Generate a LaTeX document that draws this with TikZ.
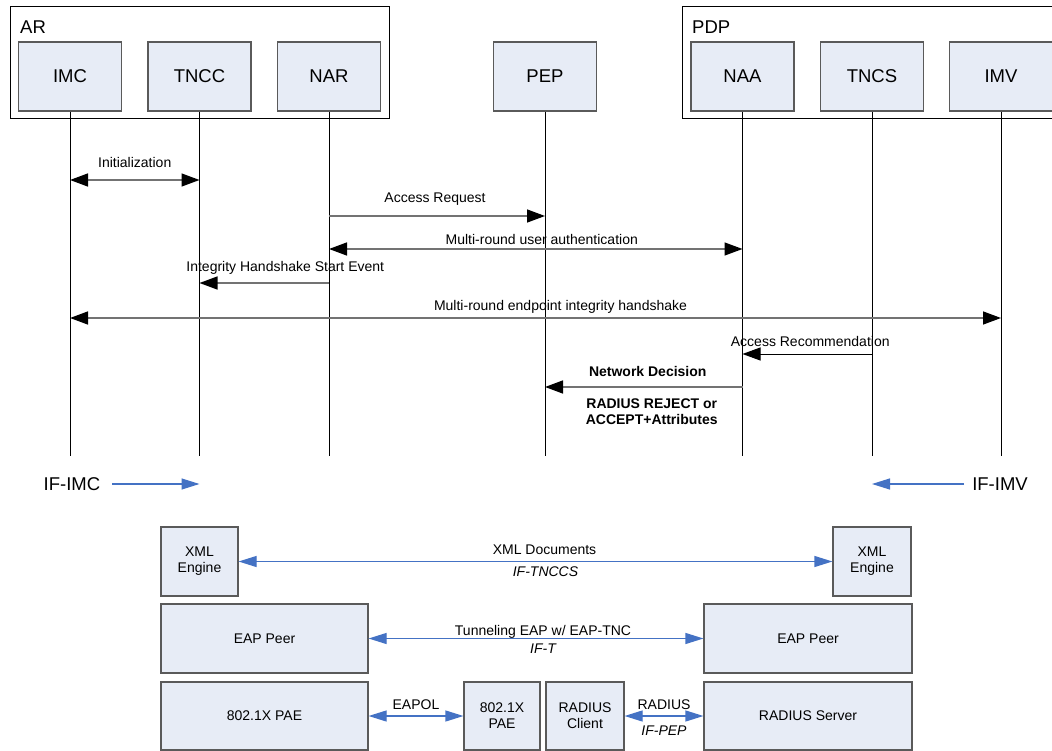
\documentclass[tikz,border=0pt]{standalone}
\usepackage{fontspec}
\setmainfont{Liberation Sans}
\usepackage{tikz}
\usetikzlibrary{arrows.meta, positioning, calc}
\definecolor{boxfill}{RGB}{231,236,246}
\definecolor{boxline}{RGB}{90,90,90}
\definecolor{msggray}{RGB}{115,115,115}
\definecolor{ifblue}{RGB}{68,114,196}

\begin{document}
\begin{tikzpicture}[x=1pt, y=-1pt,
  ent/.style={draw=boxline, fill=boxfill, line width=1.2pt, minimum width=103pt, minimum height=69pt, inner sep=0pt, font=\fontsize{18.5}{22}\selectfont},
  blk/.style={draw=boxline, fill=boxfill, line width=1.2pt, inner sep=0pt, align=center, font=\fontsize{14}{16}\selectfont},
  grp/.style={draw=black, line width=1pt},
  life/.style={black, line width=1pt},
  msg/.style={msggray, line width=1.4pt},
  ifl/.style={ifblue, line width=1.2pt},
  lbl/.style={font=\fontsize{14}{16}\selectfont, anchor=base, inner sep=0pt, text=black},
  boldlbl/.style={lbl, font=\fontsize{14}{16}\selectfont\bfseries},
  big/.style={font=\fontsize{18.5}{22}\selectfont, inner sep=0pt},
  seqtip/.tip={Triangle[length=18pt, width=13pt, color=black]},
  iftip/.tip={Triangle[length=18pt, width=11pt]}]
\useasboundingbox (0,0) rectangle (1052,751);
\clip (0,0) rectangle (1052,751);

% groups
\draw[grp] (10,7) rectangle (389,119);
\draw[grp] (682,7) rectangle (1070,119);
\node[big, anchor=west] (ar) at (20,27.5) {AR};
\node[big, anchor=west] (pdp) at (692,27.5) {PDP};

\foreach \n/\t/\x in {imc/IMC/70, tncc/TNCC/199.5, nar/NAR/329, pep/PEP/545, naa/NAA/742.5, tncs/TNCS/872, imv/IMV/1001}
  \node[ent] (\n) at (\x,76.5) {\t};

\coordinate (lend) at (0,456);
\foreach \n in {imc,tncc,nar,pep,naa,tncs,imv}
  \draw[life] (\n.south) -- (\n |- lend);

\coordinate (r1) at (0,180);
\coordinate (r2) at (0,216);
\coordinate (r3) at (0,249);
\coordinate (r4) at (0,283);
\coordinate (r5) at (0,318);
\coordinate (r6) at (0,354);
\coordinate (r7) at (0,387);

\draw[msg, seqtip-seqtip] (imc |- r1) -- node[lbl, yshift=12pt] {Initialization} (tncc |- r1);
\draw[msg, -seqtip] (nar |- r2) -- node[lbl, yshift=13pt, xshift=-2pt] {Access Request} (pep |- r2);
\draw[msg, seqtip-seqtip] (nar |- r3) -- node[lbl, yshift=4pt, xshift=6pt] {Multi-round user authentication} (naa |- r3);
\draw[msg, -seqtip] (nar |- r4) -- node[lbl, yshift=11pt, xshift=21pt] {Integrity Handshake Start Event} (tncc |- r4);
\draw[msg, seqtip-seqtip] (imc |- r5) -- node[lbl, yshift=7pt, xshift=25pt] {Multi-round endpoint integrity handshake} (imv |- r5);
\draw[life, -seqtip] (tncs |- r6) -- node[lbl, yshift=8pt, xshift=3pt] {Access Recommendation} (naa |- r6);
\draw[msg, -seqtip] (naa |- r7) -- node[boldlbl, yshift=11pt, xshift=4pt] {Network Decision}
  node[boldlbl, align=center, yshift=-37pt, xshift=8pt] {RADIUS REJECT or\\ACCEPT+Attributes} (pep |- r7);

\node[big] (ifimc) at (72,484) {IF-IMC};
\node[big] (ifimv) at (1000,484) {IF-IMV};
\draw[ifl, -iftip, shorten <=12pt] (ifimc.east) -- (tncc |- ifimc);
\draw[ifl, -iftip, shorten <=8pt] (ifimv.west) -- (tncs |- ifimv);

% protocol stack
\node[blk, minimum width=77pt, minimum height=69pt] (xmla) at (199.5,561.5) {XML\\Engine};
\node[blk, minimum width=78pt, minimum height=69pt] (xmlb) at (872,561.5) {XML\\Engine};
\node[blk, minimum width=207pt, minimum height=69pt] (eapa) at (264.5,638.5) {EAP Peer};
\node[blk, minimum width=208pt, minimum height=69pt] (eapb) at (808,638.5) {EAP Peer};
\node[blk, minimum width=207pt, minimum height=68pt] (paea) at (264.5,716) {802.1X PAE};
\node[blk, minimum width=76pt, minimum height=68pt] (paeb) at (502,716) {802.1X\\PAE};
\node[blk, minimum width=78pt, minimum height=68pt] (radc) at (585,716) {RADIUS\\Client};
\node[blk, minimum width=208pt, minimum height=68pt] (rads) at (808,716) {RADIUS Server};

\draw[ifl, iftip-iftip] (xmla) -- node[lbl, yshift=7pt, xshift=9pt] {XML Documents}
  node[lbl, yshift=-15pt, xshift=10pt] {\itshape IF-TNCCS} (xmlb);
\draw[ifl, iftip-iftip] (eapa) -- node[lbl, yshift=3pt, xshift=7pt] {Tunneling EAP w/ EAP-TNC}
  node[lbl, yshift=-15pt, xshift=7pt] {\itshape IF-T} (eapb);
\draw[ifl, iftip-iftip] (paea) -- node[lbl, yshift=7pt] {EAPOL} (paeb);
\draw[ifl, iftip-iftip] (radc) -- node[lbl, yshift=7pt] {RADIUS}
  node[lbl, yshift=-19pt] {\itshape IF-PEP} (rads);
\end{tikzpicture}
\end{document}
